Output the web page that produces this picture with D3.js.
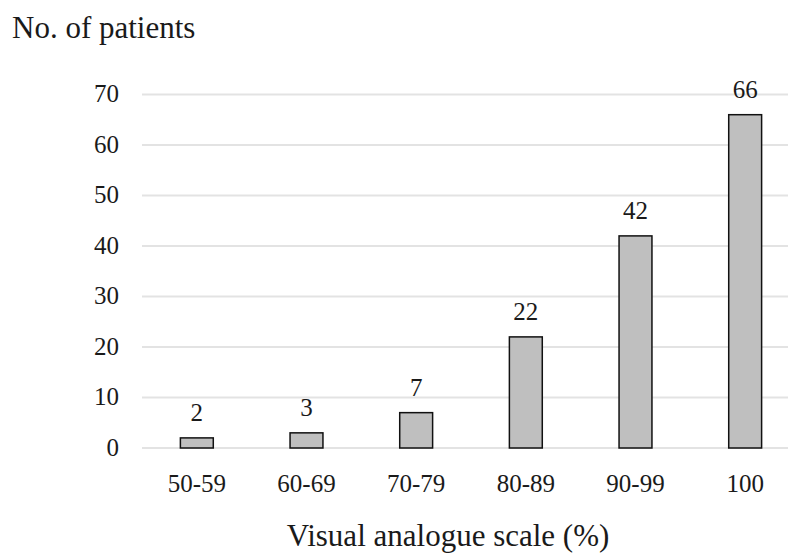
<!DOCTYPE html>
<html>
<head>
<meta charset="utf-8">
<script src="https://cdn.jsdelivr.net/npm/d3@7"></script>
<style>
  body { margin: 0; background: #fff; }
  svg text { font-family: "Liberation Serif", "DejaVu Serif", serif; fill: #1a1a1a; }
</style>
</head>
<body>
<svg id="chart" width="788" height="553"></svg>
<script>
"use strict";

const categories = ["50-59", "60-69", "70-79", "80-89", "90-99", "100"];
const patients = [2, 3, 7, 22, 42, 66];
const yTicks = [0, 10, 20, 30, 40, 50, 60, 70];

const svg = d3.select("#chart");

const x = d3.scaleBand()
  .domain(categories)
  .range([142, 800])
  .paddingInner(0.7)
  .paddingOuter(0.35);

const y = d3.scaleLinear()
  .domain([0, 70])
  .range([448, 94.5]);

// gridlines
svg.append("g")
  .selectAll("line")
  .data(yTicks)
  .join("line")
  .attr("x1", 142)
  .attr("x2", 788)
  .attr("y1", (d) => y(d))
  .attr("y2", (d) => y(d))
  .attr("stroke", "#e3e3e3")
  .attr("stroke-width", 2);

// y tick labels
svg.append("g")
  .selectAll("text")
  .data(yTicks)
  .join("text")
  .attr("x", 119)
  .attr("y", (d) => y(d) + 7.5)
  .attr("text-anchor", "end")
  .style("font-size", "25px")
  .text((d) => d);

// bars
svg.append("g")
  .selectAll("rect")
  .data(patients)
  .join("rect")
  .attr("x", (d, i) => x(categories[i]))
  .attr("y", (d) => y(d))
  .attr("width", x.bandwidth())
  .attr("height", (d) => y(0) - y(d))
  .attr("fill", "#bfbfbf")
  .attr("stroke", "#111")
  .attr("stroke-width", 1.5);

// value labels
svg.append("g")
  .selectAll("text")
  .data(patients)
  .join("text")
  .attr("x", (d, i) => x(categories[i]) + x.bandwidth() / 2)
  .attr("y", (d) => y(d) - 16.5)
  .attr("text-anchor", "middle")
  .style("font-size", "25px")
  .text((d) => d);

// x tick labels
svg.append("g")
  .selectAll("text")
  .data(categories)
  .join("text")
  .attr("x", (d) => x(d) + x.bandwidth() / 2)
  .attr("y", 492)
  .attr("text-anchor", "middle")
  .style("font-size", "25px")
  .text((d) => d);

// axis titles
svg.append("text")
  .attr("x", 12)
  .attr("y", 38)
  .style("font-size", "31px")
  .text("No. of patients");

svg.append("text")
  .attr("x", 448)
  .attr("y", 546)
  .attr("text-anchor", "middle")
  .style("font-size", "31px")
  .text("Visual analogue scale (%)");
</script>
</body>
</html>
